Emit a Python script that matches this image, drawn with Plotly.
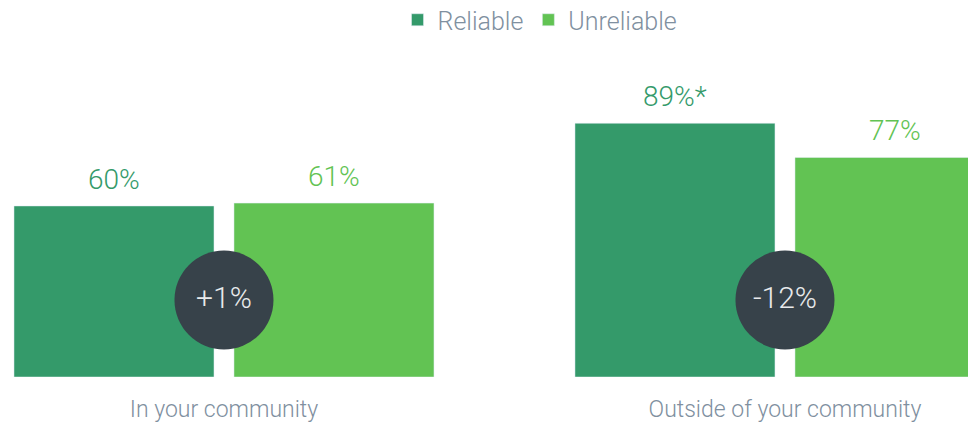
import plotly.graph_objects as go

categories = ["In your community", "Outside of your community"]
reliable = [60, 89]
unreliable = [61, 77]
reliable_labels = ["60%", "89%*"]
unreliable_labels = ["61%", "77%"]
diff_labels = ["+1%", "-12%"]

dark_green = "#349a6a"
light_green = "#62c353"
grey = "#7f90a0"
font = "Roboto"

fig = go.Figure()
fig.add_trace(go.Bar(x=categories, y=reliable, name="Reliable", marker_color=dark_green))
fig.add_trace(go.Bar(x=categories, y=unreliable, name="Unreliable", marker_color=light_green))

# circles showing the difference, sitting between the two bars
fig.add_trace(go.Scatter(
    x=categories, y=[27, 27], mode="markers+text", text=diff_labels,
    textposition="middle center",
    textfont=dict(family=font, size=30, color="#e8eaec", weight=300),
    marker=dict(size=99, color="#37424a", line_width=0),
    showlegend=False, hoverinfo="skip",
))

# value labels above bars
for cat, v, lab in zip(categories, reliable, reliable_labels):
    fig.add_annotation(x=cat, y=v, text=lab, xshift=-110, yshift=8, yanchor="bottom",
                       showarrow=False, font=dict(family=font, size=28, color=dark_green, weight=300))
for cat, v, lab in zip(categories, unreliable, unreliable_labels):
    fig.add_annotation(x=cat, y=v, text=lab, xshift=110, yshift=8, yanchor="bottom",
                       showarrow=False, font=dict(family=font, size=28, color=light_green, weight=300))

fig.update_layout(
    width=968, height=414,
    margin=dict(l=0, r=0, t=52, b=45, autoexpand=False),
    barmode="group", bargap=0.2157, bargroupgap=0.0909,
    plot_bgcolor="white", paper_bgcolor="white",
    font=dict(family=font, color=grey, weight=300),
    legend=dict(orientation="h", xref="container", yref="container", x=0.5496, y=0.971,
                xanchor="center", yanchor="middle", font=dict(size=25, color=grey, weight=300)),
    xaxis=dict(range=[-0.385, 1.3405], showgrid=False, showline=False, zeroline=False,
               tickfont=dict(size=23, color=grey, weight=300), ticks="", ticklabelstandoff=16,
               tickangle=0),
    yaxis=dict(range=[0, 111.2], visible=False),
)

fig.write_html("out.html")
